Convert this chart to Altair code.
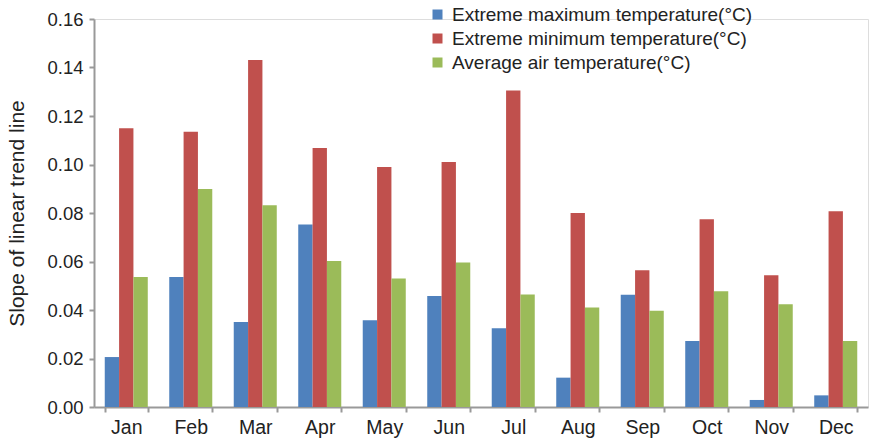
import altair as alt
import pandas as pd

months = ["Jan", "Feb", "Mar", "Apr", "May", "Jun", "Jul", "Aug", "Sep", "Oct", "Nov", "Dec"]
series = ["Extreme maximum temperature(°C)", "Extreme minimum temperature(°C)", "Average air temperature(°C)"]
ext_max = [0.0206, 0.0536, 0.0351, 0.0753, 0.0358, 0.0458, 0.0325, 0.0121, 0.0463, 0.0272, 0.0029, 0.0048]
ext_min = [0.1149, 0.1135, 0.1431, 0.1068, 0.0990, 0.1010, 0.1305, 0.0800, 0.0564, 0.0774, 0.0543, 0.0807]
avg_air = [0.0536, 0.0899, 0.0832, 0.0602, 0.0530, 0.0596, 0.0464, 0.0410, 0.0397, 0.0477, 0.0424, 0.0272]
colors = ["#4F81BD", "#C0504D", "#9BBB59"]
y_ticks = [0, 0.02, 0.04, 0.06, 0.08, 0.10, 0.12, 0.14, 0.16]

rows = []
for vals, s in zip([ext_max, ext_min, avg_air], series):
    for m, v in zip(months, vals):
        rows.append({"month": m, "series": s, "value": v})
df = pd.DataFrame(rows)

font = "Liberation Sans"

chart = alt.Chart(df).mark_bar().encode(
    x=alt.X("month:N", sort=months, title=None,
            scale=alt.Scale(paddingInner=0.333, paddingOuter=0.1667),
            axis=alt.Axis(labelAngle=0, labelFontSize=19.5, labelColor="#222",
                          labelPadding=6, domainColor="#999", domainWidth=2,
                          tickColor="#999", tickWidth=2, tickSize=5, tickBand="extent",
                          labelFont=font)),
    xOffset=alt.XOffset("series:N", sort=series),
    y=alt.Y("value:Q", title="Slope of linear trend line",
            scale=alt.Scale(domain=[0, 0.16], nice=False),
            axis=alt.Axis(values=y_ticks, format=".2f", labelFontSize=18.5, labelColor="#222",
                          labelPadding=6, domainColor="#999", domainWidth=2,
                          tickColor="#999", tickWidth=2, tickSize=5, grid=False,
                          titleFontSize=21, titleFontWeight="normal", titleColor="#222",
                          titlePadding=19, labelFont=font, titleFont=font)),
    color=alt.Color("series:N", sort=series,
                    scale=alt.Scale(domain=series, range=colors),
                    legend=alt.Legend(title=None, orient="none", legendX=334, legendY=-14,
                                      symbolType="square", symbolSize=100,
                                      symbolStrokeWidth=0, labelFontSize=19,
                                      labelColor="#222", labelFont=font, labelLimit=0,
                                      rowPadding=4, labelOffset=5)),
).properties(
    width=774, height=388,
    autosize=alt.AutoSizeParams(type="none"),
    padding={"left": 94, "top": 19, "right": 6, "bottom": 34},
).configure_view(stroke=None).configure(background="white")

chart.save("out.html", embed_options={"renderer": "svg", "actions": False})
